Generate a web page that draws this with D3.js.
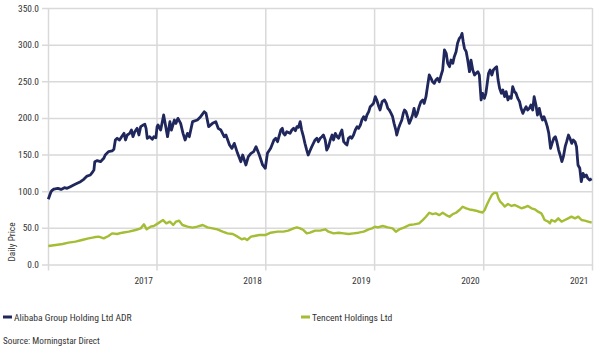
<!DOCTYPE html>
<html>
<head>
<meta charset="utf-8">
<script src="https://cdn.jsdelivr.net/npm/d3@7"></script>
<style>
  html, body { margin: 0; padding: 0; background: #ffffff; }
  svg { display: block; }
  text { font-family: "Roboto Condensed", "Liberation Sans Narrow", "Arial Narrow", sans-serif; fill: #333333; }
</style>
</head>
<body>
<svg id="chart" width="604" height="357"></svg>
<script>
// ---------------- DATA ----------------
const seriesNames = ["Alibaba Group Holding Ltd ADR", "Tencent Holdings Ltd"];
const yAxisTitle = "Daily Price";
const sourceNote = "Source: Morningstar Direct";
const yTicks = [0, 50, 100, 150, 200, 250, 300, 350];
const xTickDates = ["2017-01-01", "2017-12-31", "2018-12-31", "2019-12-31", "2020-12-31", "2021-12-31"];
const xTickLabels = ["", "2017", "2018", "2019", "2020", "2021"];

const alibabaDates = [
"2017-01-02","2017-01-11","2017-01-16","2017-01-21","2017-02-03","2017-02-14","2017-02-25","2017-03-06","2017-03-17","2017-03-28",
"2017-04-09","2017-04-20","2017-05-01","2017-05-12","2017-05-23","2017-05-29","2017-06-04","2017-06-07","2017-06-15","2017-06-26",
"2017-07-07","2017-07-12","2017-07-23","2017-08-04","2017-08-10","2017-08-15","2017-08-21","2017-08-29","2017-09-05","2017-09-13",
"2017-09-18","2017-09-24","2017-10-02","2017-10-08","2017-10-13","2017-10-19","2017-10-27","2017-11-02","2017-11-08","2017-11-16",
"2017-11-22","2017-11-26","2017-11-30","2017-12-08","2017-12-17","2017-12-22","2017-12-29",
"2018-01-02","2018-01-05","2018-01-14","2018-01-24","2018-02-06","2018-02-14","2018-02-19","2018-03-01","2018-03-06","2018-03-13",
"2018-03-22","2018-03-30","2018-04-06","2018-04-14","2018-04-20","2018-05-01","2018-05-17","2018-05-28","2018-06-09","2018-06-15",
"2018-06-24","2018-07-07","2018-07-18","2018-07-26","2018-08-04","2018-08-15","2018-08-21","2018-09-02","2018-09-10","2018-09-18",
"2018-09-29","2018-10-10","2018-10-16","2018-10-27","2018-11-04","2018-11-13","2018-11-22","2018-11-30","2018-12-11","2018-12-22","2018-12-31",
"2019-01-07","2019-01-18","2019-01-29","2019-02-04","2019-02-10","2019-02-21","2019-02-26","2019-03-02","2019-03-07","2019-03-13",
"2019-03-24","2019-03-30","2019-04-05","2019-04-11","2019-04-16","2019-04-21","2019-04-27","2019-05-02","2019-05-08","2019-05-13",
"2019-05-19","2019-05-24","2019-05-31","2019-06-05","2019-06-16","2019-06-22","2019-06-27","2019-07-03","2019-07-09","2019-07-14",
"2019-07-20","2019-07-25","2019-07-31","2019-08-06","2019-08-12","2019-08-17","2019-08-23","2019-08-29","2019-09-03","2019-09-09",
"2019-09-14","2019-09-20","2019-09-25","2019-10-01","2019-10-06","2019-10-12","2019-10-17","2019-10-23","2019-10-29","2019-11-04",
"2019-11-09","2019-11-15","2019-11-20","2019-11-26","2019-12-02","2019-12-07","2019-12-13","2019-12-18","2019-12-24","2019-12-29",
"2020-01-04","2020-01-09","2020-01-16","2020-01-20","2020-01-27","2020-02-04","2020-02-10","2020-02-15","2020-02-20","2020-02-26",
"2020-03-02","2020-03-07","2020-03-13","2020-03-16","2020-03-22","2020-03-26","2020-04-02","2020-04-07","2020-04-11","2020-04-16",
"2020-04-21","2020-04-27","2020-05-02","2020-05-08","2020-05-13","2020-05-19","2020-05-24","2020-05-30","2020-06-05","2020-06-11",
"2020-06-16","2020-06-22","2020-06-27","2020-07-03","2020-07-09","2020-07-14","2020-07-20","2020-07-25","2020-07-31","2020-08-06",
"2020-08-12","2020-08-17","2020-08-23","2020-08-29","2020-09-03","2020-09-09","2020-09-14","2020-09-20","2020-09-25","2020-10-01",
"2020-10-06","2020-10-12","2020-10-17","2020-10-21","2020-10-25","2020-10-29","2020-11-04","2020-11-09","2020-11-15","2020-11-18",
"2020-11-20","2020-11-26","2020-12-02","2020-12-07","2020-12-13","2020-12-18","2020-12-24","2020-12-29",
"2021-01-04","2021-01-09","2021-01-12","2021-01-18","2021-01-23","2021-01-29","2021-02-03","2021-02-08","2021-02-14","2021-02-19",
"2021-02-24","2021-03-02","2021-03-07","2021-03-13","2021-03-18","2021-03-24","2021-03-29","2021-04-04","2021-04-09","2021-04-15",
"2021-04-20","2021-04-26","2021-05-02","2021-05-07","2021-05-13","2021-05-18","2021-05-24","2021-05-29","2021-06-04","2021-06-09",
"2021-06-15","2021-06-20","2021-06-26","2021-07-01","2021-07-07","2021-07-12","2021-07-18","2021-07-23","2021-07-29","2021-08-03",
"2021-08-08","2021-08-14","2021-08-19","2021-08-25","2021-08-30","2021-09-04","2021-09-10","2021-09-15","2021-09-21","2021-09-26",
"2021-10-02","2021-10-07","2021-10-13","2021-10-18","2021-10-24","2021-10-29","2021-11-04","2021-11-09","2021-11-14","2021-11-20",
"2021-11-25","2021-12-01","2021-12-06","2021-12-12","2021-12-17","2021-12-23","2021-12-30"
];
const alibabaPrices = [
89.0,99.3,101.6,103.0,103.9,102.5,104.8,103.9,106.2,108.5,
110.8,113.0,116.2,120.7,122.1,125.3,128.9,140.3,141.7,140.3,
144.9,149.4,154.0,154.9,157.2,169.9,172.2,169.9,174.4,179.0,
169.9,176.7,179.0,183.5,174.4,181.2,185.8,176.7,188.1,190.3,
191.3,185.8,172.2,174.4,170.8,174.4,173.0,
188.1,190.3,183.5,204.0,174.4,194.9,183.5,197.2,192.6,199.4,
192.6,179.0,169.9,179.0,174.4,194.9,197.2,201.7,208.5,206.3,
188.1,192.6,194.9,185.8,183.5,174.4,176.7,163.1,158.5,165.3,
151.7,140.3,149.4,135.8,147.1,151.7,154.0,160.8,149.4,135.8,131.3,
151.7,158.5,169.9,172.2,167.6,183.5,185.8,179.0,176.7,181.2,
179.0,183.5,185.8,182.6,188.1,187.2,194.9,183.5,174.4,165.3,
156.2,149.4,156.2,160.8,169.9,172.2,167.6,172.2,174.4,176.7,
169.9,156.2,160.8,169.9,176.7,169.9,179.0,174.4,172.2,179.0,
183.5,167.6,165.3,163.1,172.2,174.4,172.2,176.7,183.5,188.1,
185.8,190.3,197.2,201.7,197.2,204.0,208.5,215.3,217.6,219.9,
229.0,224.5,215.3,210.8,222.2,224.5,219.9,213.1,210.8,206.3,
201.7,192.6,183.5,176.7,185.8,190.3,197.2,206.3,210.8,208.5,
201.7,192.6,197.2,204.0,213.1,201.7,206.3,215.3,222.2,224.5,
219.9,229.0,242.6,258.6,254.0,249.4,247.2,251.7,254.0,249.4,
258.6,265.4,292.7,288.1,274.5,269.9,279.0,274.5,283.6,290.4,
301.8,308.6,310.9,315.4,304.0,295.0,290.4,279.0,263.1,269.9,
279.0,265.4,258.6,260.9,263.1,258.6,224.5,233.6,
226.7,233.6,242.6,260.9,265.4,258.6,265.4,267.7,269.9,251.7,
240.4,233.6,238.1,229.0,235.8,224.5,229.0,226.7,242.6,235.8,
233.6,226.7,222.2,213.1,206.3,210.8,215.3,210.8,213.1,217.6,
210.8,229.0,217.6,204.0,213.1,204.0,197.2,201.7,194.9,188.1,
179.0,158.5,165.3,172.2,174.4,167.6,156.2,149.4,140.3,147.1,
160.8,167.6,176.7,172.2,165.3,169.9,167.6,160.8,135.8,131.3,
113.0,124.4,119.8,122.1,117.6,115.3,117.0
];

const tencentDates = [
"2017-01-02","2017-01-27","2017-02-19","2017-03-11","2017-04-03","2017-04-25","2017-05-17","2017-06-04","2017-06-20","2017-07-07",
"2017-07-23","2017-08-04","2017-08-21","2017-09-07","2017-09-29","2017-10-22","2017-11-08","2017-11-19","2017-11-28","2017-12-11","2017-12-22",
"2018-01-05","2018-01-22","2018-02-02","2018-02-14","2018-02-25","2018-03-06","2018-03-17","2018-03-28","2018-04-14","2018-05-01",
"2018-05-17","2018-06-04","2018-06-20","2018-07-07","2018-07-23","2018-08-10","2018-08-26","2018-09-13","2018-09-29","2018-10-13",
"2018-10-22","2018-10-31","2018-11-13","2018-11-24","2018-12-11","2018-12-31",
"2019-01-18","2019-02-10","2019-03-02","2019-03-18","2019-04-05","2019-04-16","2019-04-27","2019-05-08","2019-05-19","2019-05-30",
"2019-06-16","2019-07-03","2019-07-20","2019-07-31","2019-08-17","2019-09-03","2019-09-20","2019-10-06","2019-10-23","2019-11-09",
"2019-11-26","2019-12-13","2019-12-24",
"2020-01-03","2020-01-12","2020-01-29","2020-02-15","2020-03-02","2020-03-13","2020-03-24","2020-04-11","2020-04-27","2020-05-13",
"2020-05-30","2020-06-11","2020-06-22","2020-07-03","2020-07-14","2020-07-25","2020-08-06","2020-08-17","2020-08-29","2020-09-09",
"2020-09-20","2020-10-01","2020-10-12","2020-10-23","2020-11-04","2020-11-15","2020-11-26","2020-12-07","2020-12-18","2020-12-29",
"2021-01-05","2021-01-12","2021-01-20","2021-01-29","2021-02-07","2021-02-15","2021-02-20","2021-02-26","2021-03-04","2021-03-13",
"2021-03-24","2021-04-05","2021-04-16","2021-04-27","2021-05-08","2021-05-19","2021-05-30","2021-06-11","2021-06-22","2021-07-03",
"2021-07-14","2021-07-20","2021-07-25","2021-08-06","2021-08-12","2021-08-17","2021-08-29","2021-09-09","2021-09-20","2021-10-01",
"2021-10-12","2021-10-23","2021-11-04","2021-11-15","2021-11-26","2021-12-07","2021-12-18","2021-12-30"
];
const tencentPrices = [
25.2,26.6,28.0,29.8,31.2,33.4,35.7,37.1,38.0,35.7,
38.9,42.5,41.6,43.4,44.8,47.1,49.3,54.8,48.0,51.6,52.5,
56.1,60.6,56.1,58.4,53.9,58.4,59.7,53.9,51.6,50.3,
51.6,53.9,50.7,49.3,47.9,44.8,42.5,41.6,38.0,34.3,
35.7,33.4,38.0,38.9,40.2,40.2,
43.4,44.8,44.8,46.2,49.3,50.7,49.3,47.0,42.5,43.4,
46.2,46.2,48.0,44.8,42.5,43.4,42.5,41.6,42.5,43.4,
44.8,48.0,49.3,
51.6,50.7,52.5,50.7,49.3,44.8,47.9,50.7,53.9,54.8,
56.1,60.6,65.2,70.6,68.8,69.7,67.4,70.6,67.4,65.2,
68.8,70.6,74.3,78.8,76.5,75.1,74.3,73.4,72.0,71.0,
74.4,81.2,88.0,94.9,98.1,97.2,90.4,85.8,83.5,79.0,
82.6,79.9,81.2,79.0,76.7,78.1,79.9,76.7,75.3,72.1,
69.8,65.3,60.7,58.5,56.2,60.7,58.5,63.0,58.5,60.7,
63.0,65.3,63.0,65.3,60.7,59.8,58.5,57.1
];

const seriesColors = ["#1f275c", "#a3bd35"];

// ---------------- CHART ----------------
const parse = d3.timeParse("%Y-%m-%d");
const svg = d3.select("#chart");

const plotLeft = 48, plotRight = 592, plotTop = 8, plotBottom = 264.5;
const tickFont = 9.4;
const x = d3.scaleTime()
  .domain([parse(xTickDates[0]), parse(xTickDates[xTickDates.length - 1])])
  .range([plotLeft, plotRight]);
const y = d3.scaleLinear().domain([0, 350]).range([plotBottom, plotTop]);

// Y axis with horizontal gridlines
const yAxis = d3.axisLeft(y)
  .tickValues(yTicks)
  .tickFormat(d3.format(".1f"))
  .tickSize(-(plotRight - plotLeft + 6))
  .tickPadding(3);
const gy = svg.append("g").attr("transform", `translate(${plotLeft - 6},0)`).call(yAxis);
gy.select(".domain").remove();
gy.selectAll(".tick line").attr("stroke", "#d9d9d9").attr("stroke-width", 1.5);
gy.selectAll(".tick text").attr("font-size", tickFont).attr("fill", "#333");

// X axis with vertical gridlines
const xAxis = d3.axisBottom(x)
  .tickValues(xTickDates.map(parse))
  .tickFormat((d, i) => xTickLabels[i])
  .tickSize(-(plotBottom + 6 - plotTop))
  .tickPadding(7);
const gx = svg.append("g").attr("transform", `translate(0,${plotBottom + 6})`).call(xAxis);
gx.select(".domain").remove();
gx.selectAll(".tick line").attr("stroke", "#d9d9d9").attr("stroke-width", 1.5);
gx.selectAll(".tick text")
  .attr("font-size", tickFont)
  .attr("fill", "#333")
  .attr("text-anchor", "end")
  .attr("dx", -4);

// Lines
const line = d3.line().x(d => x(d.date)).y(d => y(d.value)).curve(d3.curveLinear);
const alibaba = alibabaDates.map((d, i) => ({ date: parse(d), value: alibabaPrices[i] }));
const tencent = tencentDates.map((d, i) => ({ date: parse(d), value: tencentPrices[i] }));

svg.append("path").datum(tencent)
  .attr("fill", "none").attr("stroke", seriesColors[1]).attr("stroke-width", 2.4)
  .attr("stroke-linejoin", "round").attr("d", line);
svg.append("path").datum(alibaba)
  .attr("fill", "none").attr("stroke", seriesColors[0]).attr("stroke-width", 2.8)
  .attr("stroke-linejoin", "round").attr("d", line);

// Y axis title
svg.append("text")
  .attr("transform", "translate(15,242) rotate(-90)")
  .attr("text-anchor", "middle")
  .attr("font-size", tickFont)
  .attr("fill", "#333")
  .text(yAxisTitle);

// Legend
const legendX = [3, 301];
seriesNames.forEach((name, i) => {
  const g = svg.append("g").attr("transform", `translate(${legendX[i]},317)`);
  g.append("line").attr("x1", 0).attr("x2", 9).attr("y1", 0).attr("y2", 0)
    .attr("stroke", seriesColors[i]).attr("stroke-width", 3);
  g.append("text").attr("x", 11).attr("y", 3.5).attr("font-size", 9.6).attr("fill", "#333").text(name);
});

// Source
svg.append("text").attr("x", 3).attr("y", 344).attr("font-size", 9.2).attr("fill", "#333").text(sourceNote);
</script>
</body>
</html>
